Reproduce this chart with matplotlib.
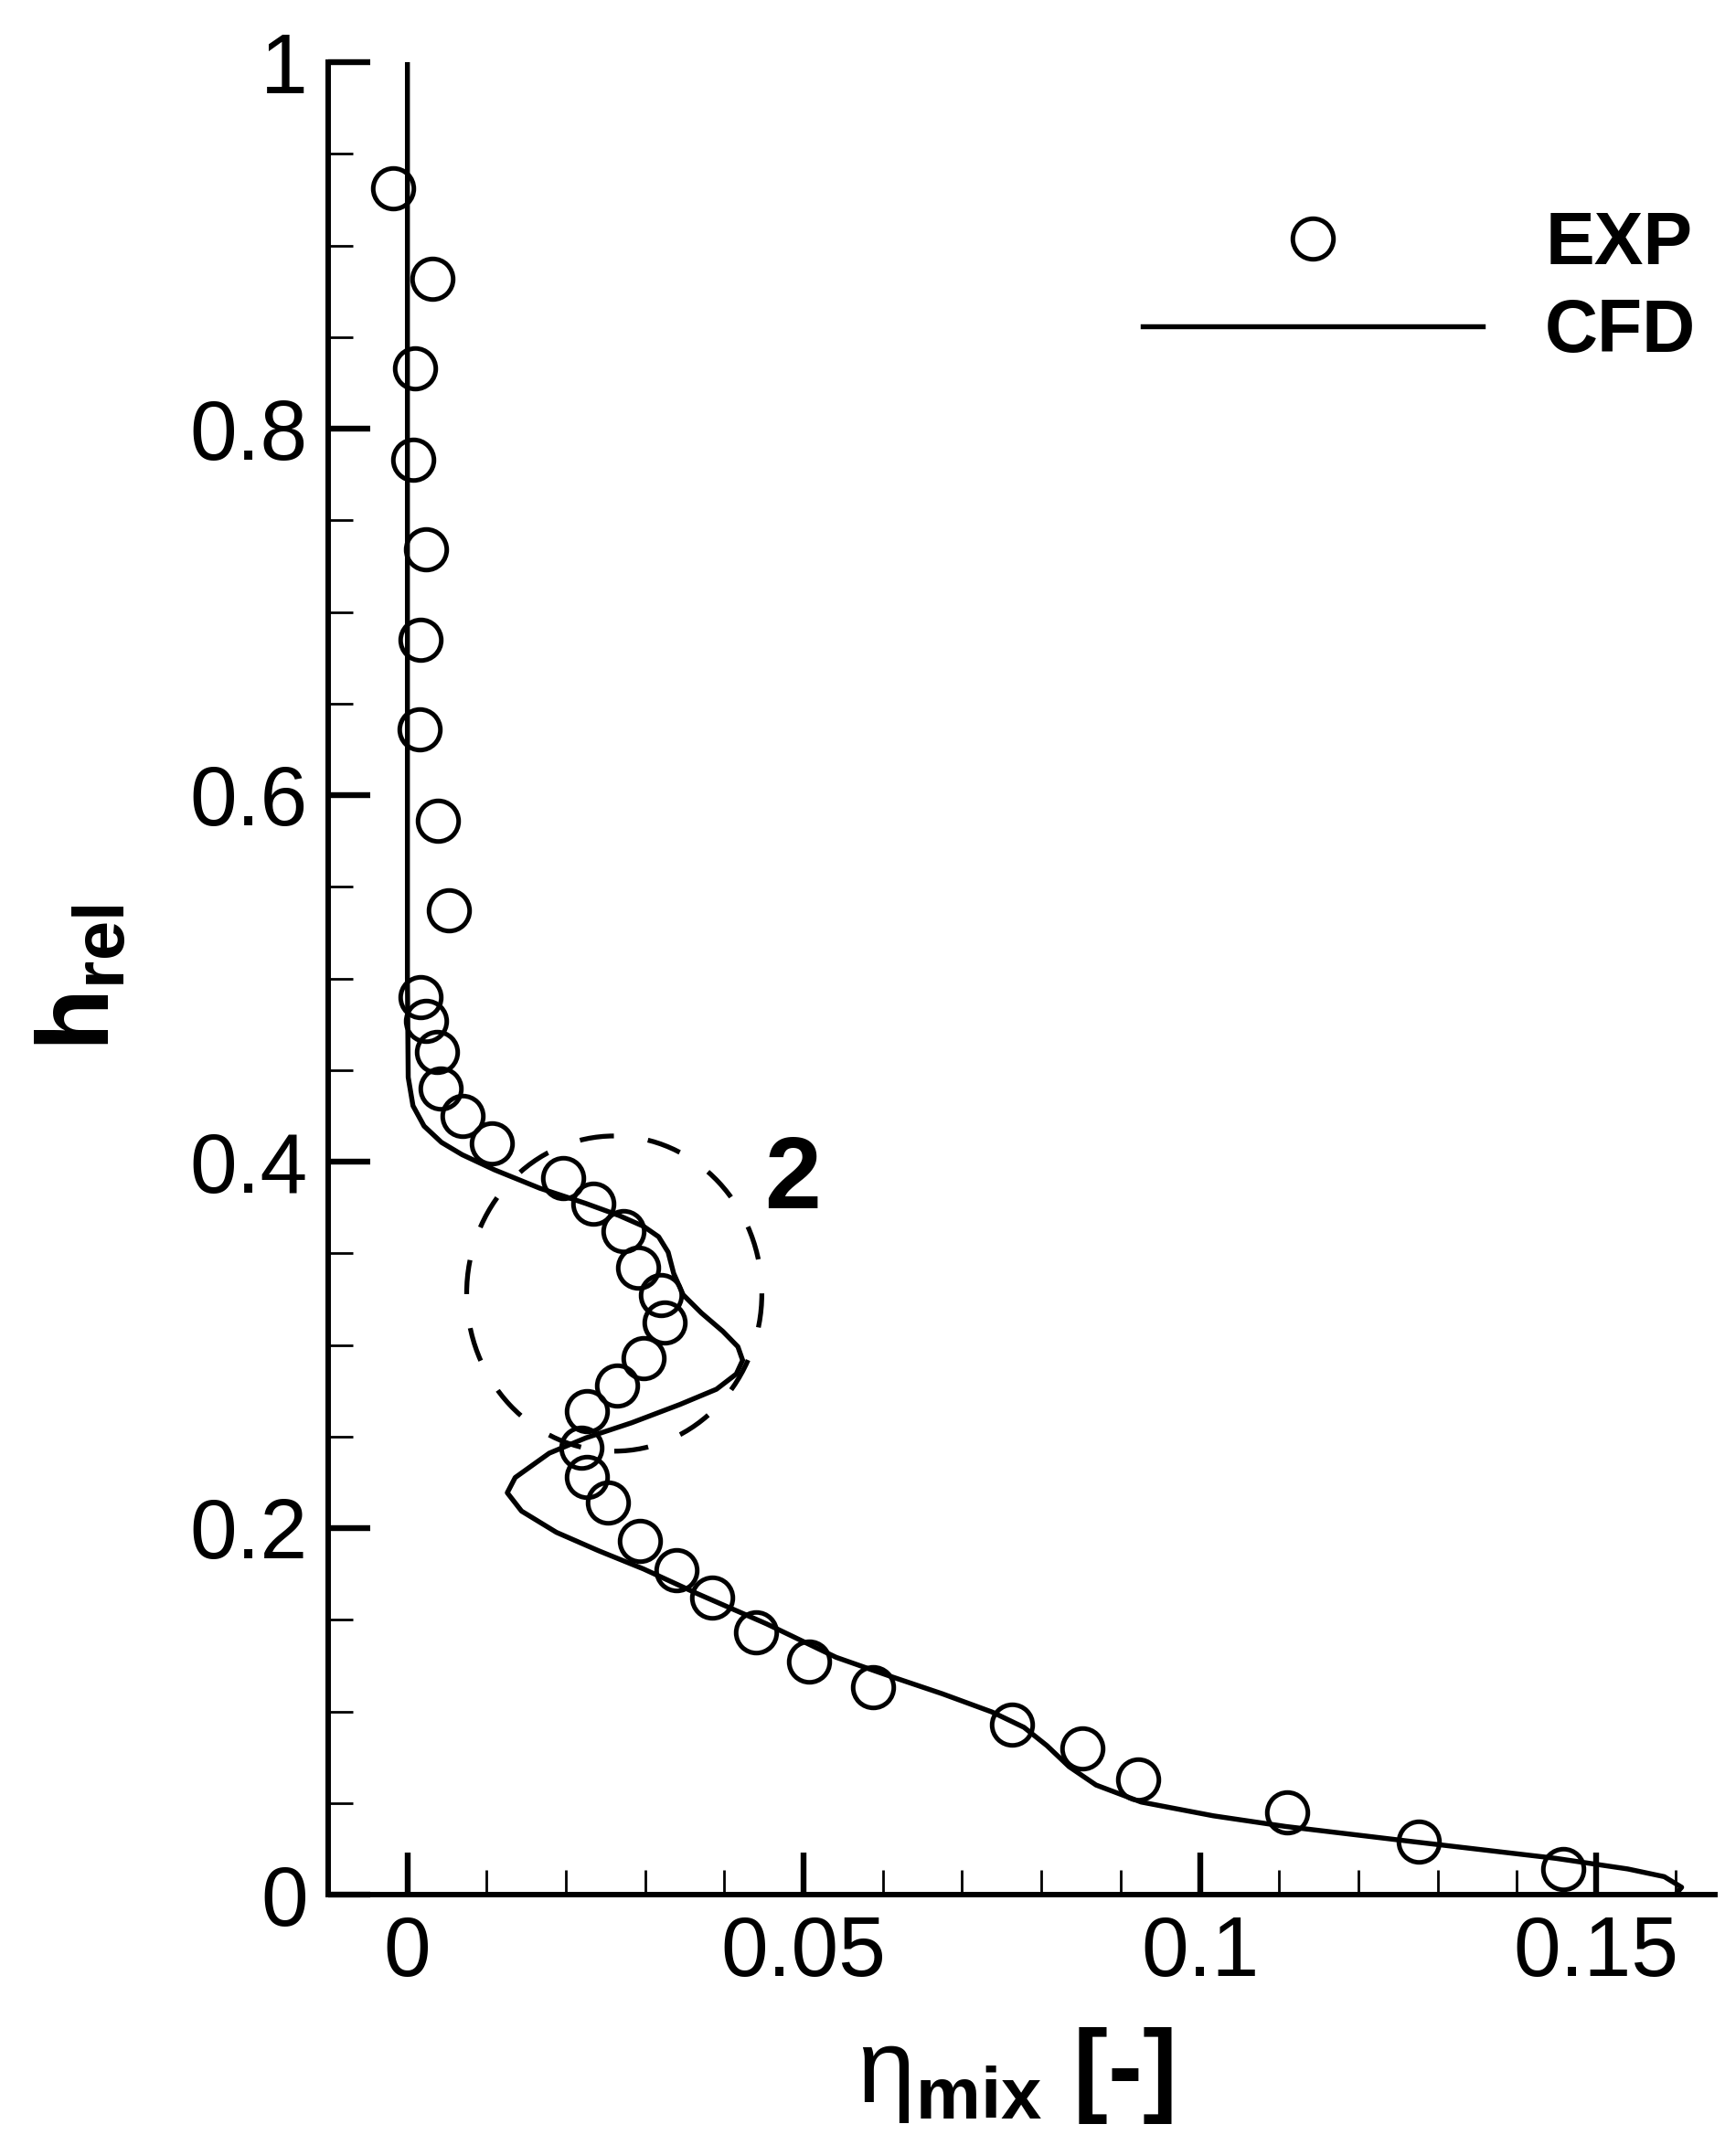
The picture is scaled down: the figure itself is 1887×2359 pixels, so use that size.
import matplotlib
matplotlib.use("Agg")
import matplotlib.pyplot as plt
from matplotlib.patches import Ellipse
from matplotlib.ticker import MultipleLocator, FuncFormatter

plt.rcParams['font.family'] = ['Liberation Sans', 'DejaVu Sans']
plt.rcParams['mathtext.fontset'] = 'custom'
plt.rcParams['mathtext.rm'] = 'Liberation Sans'
plt.rcParams['mathtext.it'] = 'Liberation Sans:italic'
plt.rcParams['mathtext.bf'] = 'Liberation Sans:bold'
plt.rcParams['mathtext.sf'] = 'Liberation Sans'
plt.rcParams['lines.scale_dashes'] = False

# ---------------- data ----------------
exp_x = [-0.0018, 0.0032, 0.0010, 0.0007, 0.0024, 0.0016, 0.0015, 0.0039, 0.0052,
         0.0017, 0.0023, 0.0037, 0.0042, 0.0070, 0.0106, 0.0196, 0.0235, 0.0273,
         0.0291, 0.0320, 0.0325, 0.0298, 0.0265, 0.0227, 0.0220, 0.0226, 0.0253,
         0.0293, 0.0340, 0.0385, 0.0440, 0.0507, 0.0587, 0.0763, 0.0852, 0.0922,
         0.1110, 0.1276, 0.1458]
exp_y = [0.931, 0.882, 0.833, 0.783, 0.734, 0.685, 0.636, 0.586, 0.537,
         0.490, 0.477, 0.460, 0.440, 0.425, 0.410, 0.391, 0.377, 0.362,
         0.342, 0.327, 0.312, 0.293, 0.278, 0.264, 0.244, 0.228, 0.214,
         0.193, 0.177, 0.162, 0.143, 0.127, 0.113, 0.093, 0.080, 0.063,
         0.045, 0.029, 0.014]

cfd_x = [0.0000, 0.0000, 0.0000, 0.0000, 0.0001, 0.0007, 0.0021, 0.0043, 0.0069,
         0.0110, 0.0167, 0.0225, 0.0267, 0.0298, 0.0317, 0.0329, 0.0336, 0.0348,
         0.0371, 0.0398, 0.0417, 0.0423, 0.0415, 0.0390, 0.0344, 0.0283, 0.0225,
         0.0179, 0.0136, 0.0126, 0.0144, 0.0188, 0.0241, 0.0298, 0.0365, 0.0453,
         0.0541, 0.0607, 0.0675, 0.0738, 0.0778, 0.0807, 0.0835, 0.0869, 0.0926,
         0.1017, 0.1108, 0.1267, 0.1449, 0.1540, 0.1586, 0.1608, 0.1600]
cfd_y = [1.000, 0.800, 0.600, 0.500, 0.446, 0.4305, 0.4194, 0.4105, 0.4038,
         0.3955, 0.3855, 0.3772, 0.3706, 0.3647, 0.3590, 0.3506, 0.3390, 0.3273,
         0.3174, 0.3074, 0.2990, 0.2916, 0.2841, 0.2758, 0.2675, 0.2575, 0.2492,
         0.2409, 0.2276, 0.2193, 0.2093, 0.1977, 0.1877, 0.1777, 0.1644, 0.1478,
         0.1295, 0.1195, 0.1096, 0.0996, 0.0913, 0.0813, 0.0698, 0.0598, 0.0505,
         0.0430, 0.0372, 0.0290, 0.0198, 0.0140, 0.0098, 0.0040, 0.0000]

x_ticks = [0, 0.05, 0.1, 0.15]
y_ticks = [0, 0.2, 0.4, 0.6, 0.8, 1.0]
legend_labels = ['EXP', 'CFD']
zone_label = '2'

# ---------------- figure ----------------
W, H = 1887, 2359
fig = plt.figure(figsize=(W / 100, H / 100), dpi=100)
ax = fig.add_axes([359 / W, (H - 2073) / H, (1876 - 359) / W, (2073 - 68) / H])

line_cfd, = ax.plot(cfd_x, cfd_y, color='black', lw=3.9, solid_joinstyle='round',
                    label=legend_labels[1], zorder=3)
pts_exp, = ax.plot(exp_x, exp_y, ls='none', marker='o', ms=32, mfc='none',
                   mec='black', mew=3.6, label=legend_labels[0], zorder=4)

ell = Ellipse((0.0261, 0.328), 0.03725, 0.172, fill=False, ec='black', lw=3.8,
              ls=(0, (27, 27)), zorder=2)
ax.add_patch(ell)
ax.text(0.0486, 0.3746, zone_label, fontsize=80, fontweight='bold',
        ha='center', va='baseline')

ax.set_xlim(-0.01, 0.165)
ax.set_ylim(0, 1)
for s in ['top', 'right']:
    ax.spines[s].set_visible(False)
for s in ['left', 'bottom']:
    ax.spines[s].set_linewidth(4.3)

ax.set_xticks(x_ticks)
ax.set_yticks(y_ticks)
ax.xaxis.set_minor_locator(MultipleLocator(0.01))
ax.yaxis.set_minor_locator(MultipleLocator(0.05))
fmt = FuncFormatter(lambda v, p: '%g' % round(v, 4))
ax.xaxis.set_major_formatter(fmt)
ax.yaxis.set_major_formatter(fmt)
ax.tick_params(which='major', direction='in', length=33, width=4.6, labelsize=67)
ax.tick_params(which='minor', direction='in', length=19.5, width=2.0)
ax.tick_params(axis='x', which='major', pad=16)
ax.tick_params(axis='y', which='major', pad=16)

fig.text(91 / W, 1 - 1070 / H, r'$\mathbf{h}_{\mathbf{rel}}$', rotation=90,
         fontsize=80, ha='center', va='center')
fig.text(1110 / W, 1 - 2271 / H, r'$\mathrm{\eta}_{\mathbf{mix}}$ [-]',
         fontsize=82, fontweight='bold', ha='center', va='center')

leg = ax.legend(handles=[pts_exp, line_cfd], loc='upper left',
                bbox_to_anchor=(1250 / W, 1 - 230 / H), bbox_transform=fig.transFigure,
                frameon=False, borderpad=0, borderaxespad=0, handlelength=4.62,
                handletextpad=0.845, labelspacing=0.25,
                prop={'family': 'Liberation Sans', 'weight': 'bold', 'size': 58})

fig.savefig('out.png', dpi=100)
